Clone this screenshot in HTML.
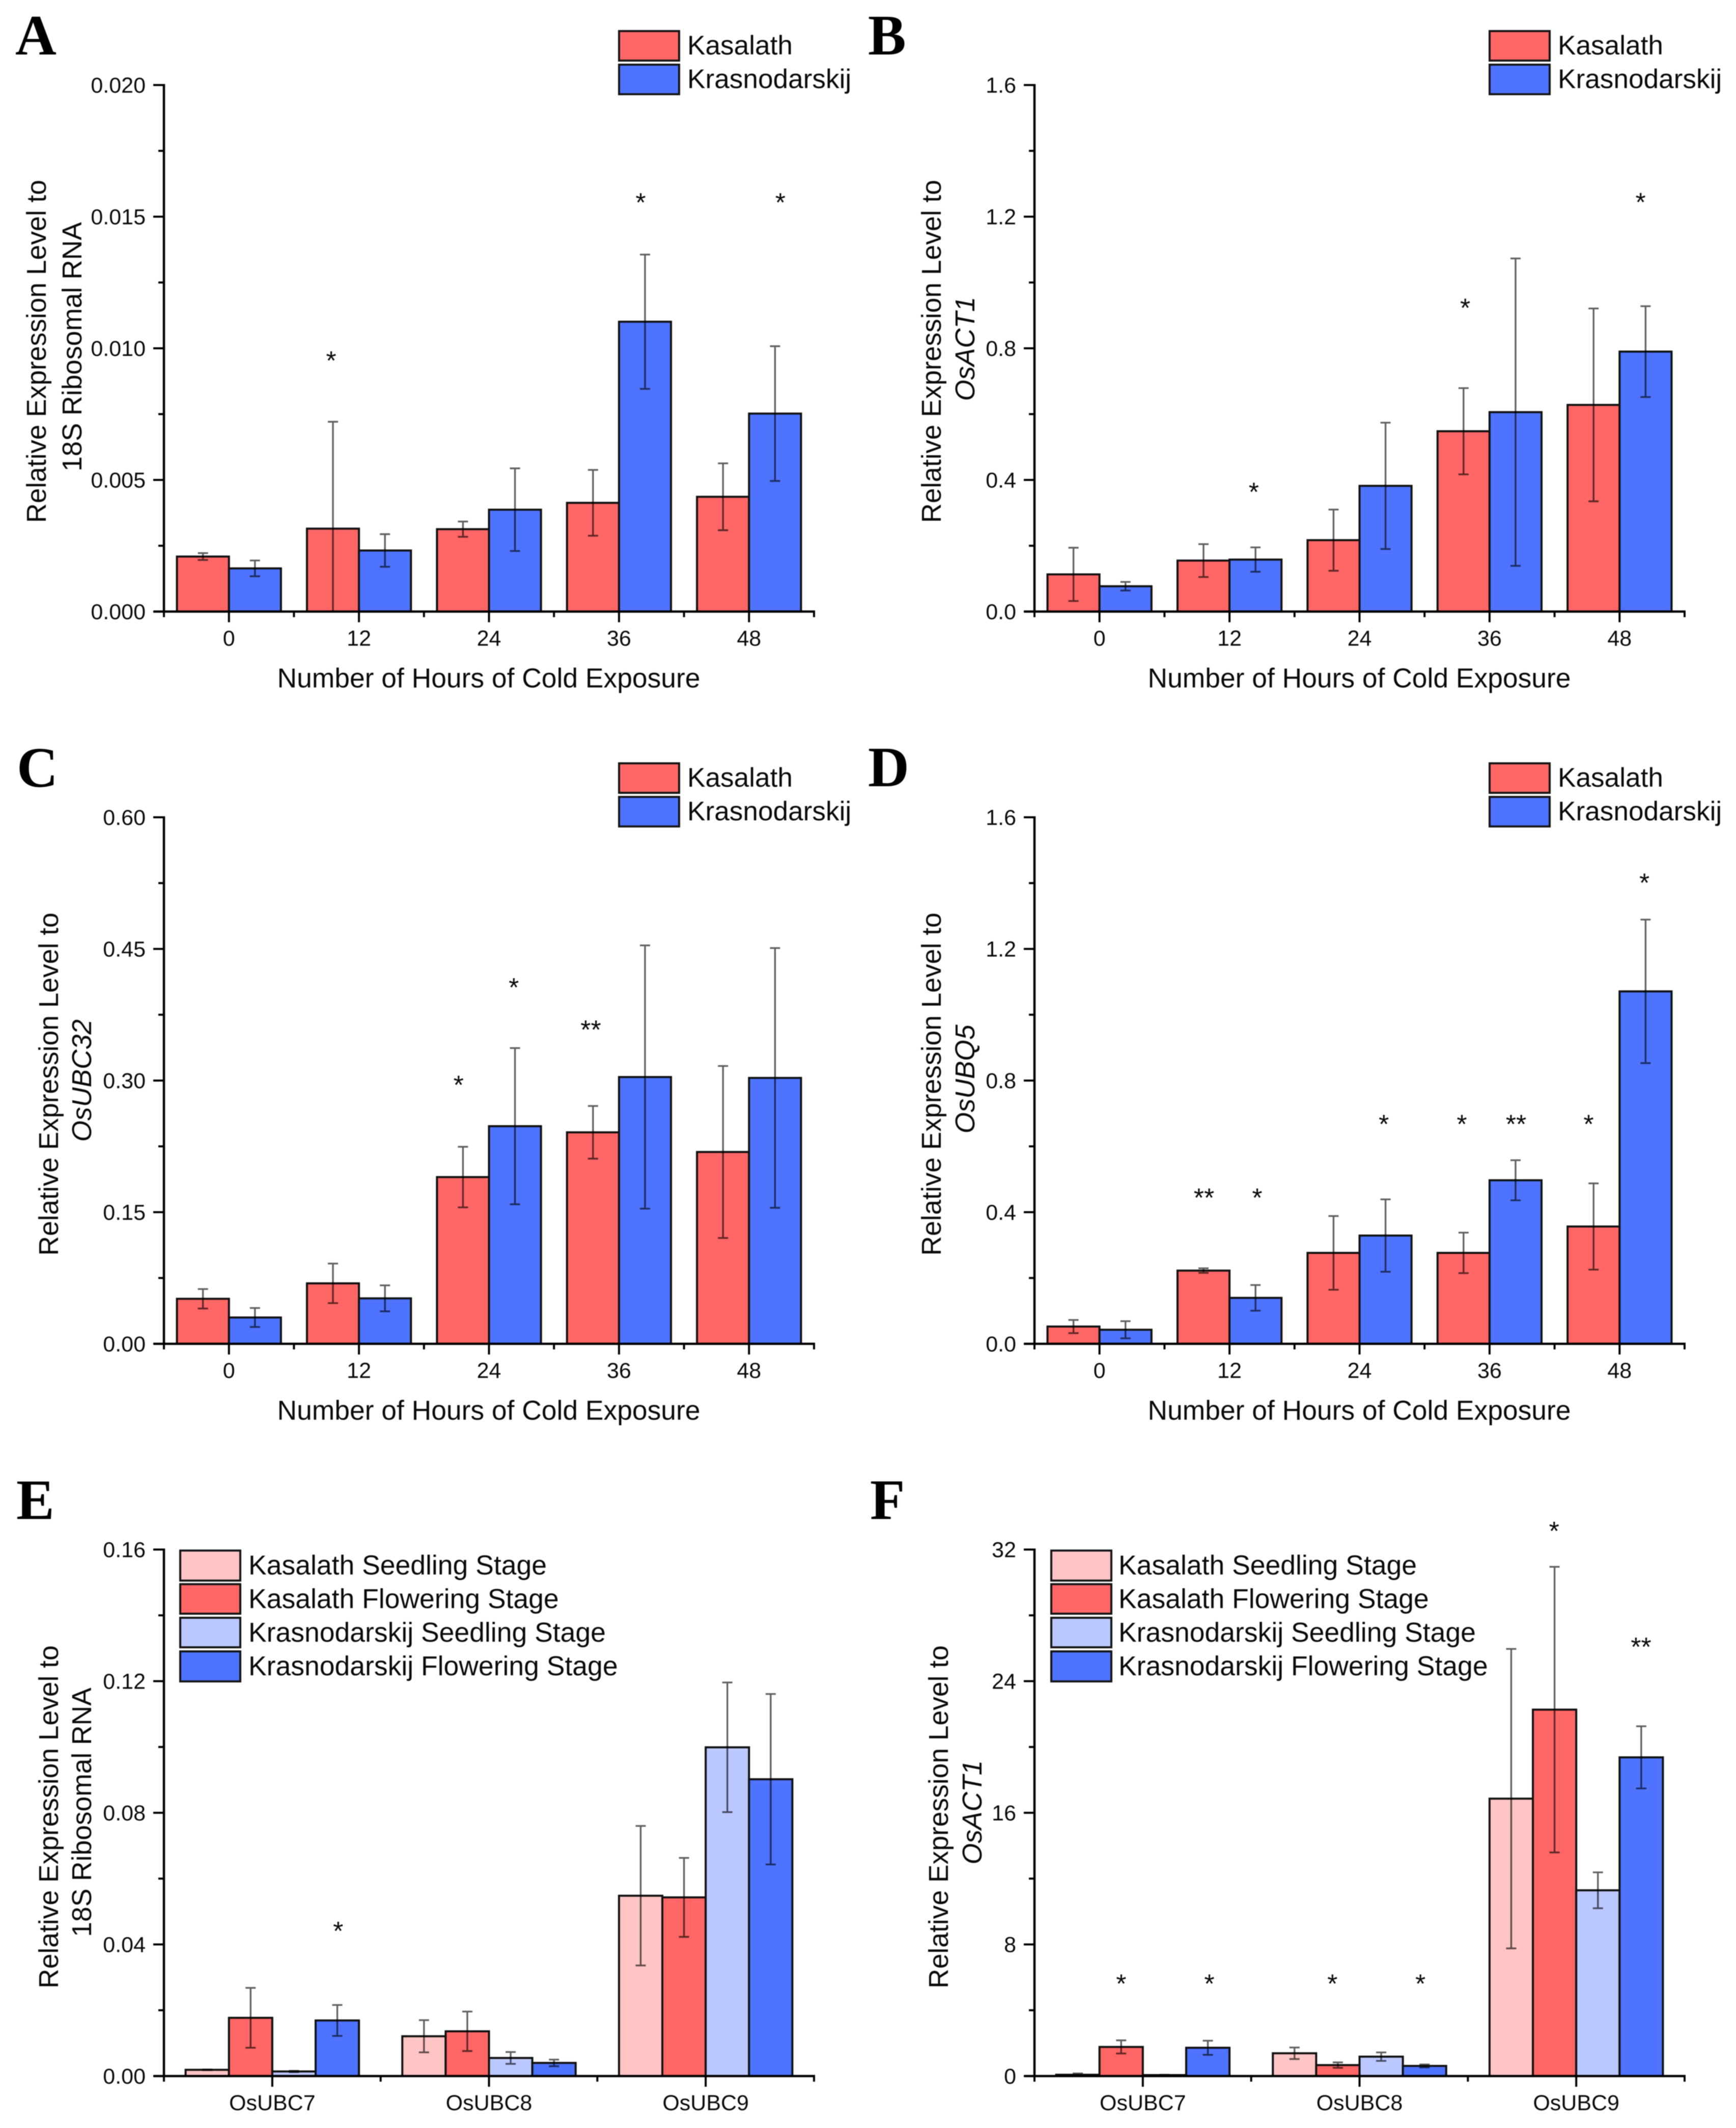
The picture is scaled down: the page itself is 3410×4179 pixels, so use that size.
<!DOCTYPE html>
<html lang="en">
<head>
<meta charset="utf-8">
<title>Relative expression levels under cold exposure</title>
<style>
  html, body { margin: 0; padding: 0; background: #fff; }
  svg { display: block; filter: blur(0.8px); }
  text { font-family: "Liberation Sans", Arial, sans-serif; fill: #0a0a0a; }
  .letter { font-family: "Liberation Serif", serif; font-weight: bold; font-size: 112px; fill: #000; }
  .title { font-size: 53.4px; }
  .legend { font-size: 53.2px; }
  .legend-long { font-size: 53.5px; }
  .swatch { stroke: #151515; stroke-width: 4px; }
</style>
</head>
<body>
<svg id="figure" xmlns="http://www.w3.org/2000/svg" width="3410" height="4179" viewBox="0 0 3410 4179">
  <rect width="3410" height="4179" fill="#fff"/>

  <!-- Panel letters -->
  <text class="letter" x="30" y="107">A</text>
  <text class="letter" x="1705" y="107">B</text>
  <text class="letter" x="33" y="1545">C</text>
  <text class="letter" x="1705" y="1544">D</text>
  <text class="letter" x="32" y="2983">E</text>
  <text class="letter" x="1709" y="2983">F</text>

  <!-- Axis titles -->
  <text class="title" x="960" y="1350" text-anchor="middle">Number of Hours of Cold Exposure</text>
  <text class="title" x="2670" y="1350" text-anchor="middle">Number of Hours of Cold Exposure</text>
  <text class="title" x="960" y="2788" text-anchor="middle">Number of Hours of Cold Exposure</text>
  <text class="title" x="2670" y="2788" text-anchor="middle">Number of Hours of Cold Exposure</text>

  <text class="title" transform="translate(90,690) rotate(-90)" text-anchor="middle">Relative Expression Level to</text>
  <text class="title" transform="translate(160,681) rotate(-90)" text-anchor="middle">18S Ribosomal RNA</text>
  <text class="title" transform="translate(1848,690) rotate(-90)" text-anchor="middle">Relative Expression Level to</text>
  <text class="title" font-style="italic" transform="translate(1914,685) rotate(-90)" text-anchor="middle">OsACT1</text>
  <text class="title" transform="translate(114,2129) rotate(-90)" text-anchor="middle">Relative Expression Level to</text>
  <text class="title" font-style="italic" transform="translate(179,2122) rotate(-90)" text-anchor="middle">OsUBC32</text>
  <text class="title" transform="translate(1848,2129) rotate(-90)" text-anchor="middle">Relative Expression Level to</text>
  <text class="title" font-style="italic" transform="translate(1914,2119) rotate(-90)" text-anchor="middle">OsUBQ5</text>
  <text class="title" transform="translate(114,3568) rotate(-90)" text-anchor="middle">Relative Expression Level to</text>
  <text class="title" transform="translate(179,3559) rotate(-90)" text-anchor="middle">18S Ribosomal RNA</text>
  <text class="title" transform="translate(1862,3568) rotate(-90)" text-anchor="middle">Relative Expression Level to</text>
  <text class="title" font-style="italic" transform="translate(1928,3559) rotate(-90)" text-anchor="middle">OsACT1</text>

  <!-- Legends A to D -->
  <g>
    <rect class="swatch" x="1216" y="61" width="118" height="58" fill="#ff6666"/>
    <text class="legend" x="1350" y="107">Kasalath</text>
    <rect class="swatch" x="1216" y="127" width="118" height="58" fill="#4d73ff"/>
    <text class="legend" x="1350" y="173">Krasnodarskij</text>
  </g>
  <g>
    <rect class="swatch" x="2926" y="61" width="118" height="58" fill="#ff6666"/>
    <text class="legend" x="3060" y="107">Kasalath</text>
    <rect class="swatch" x="2926" y="127" width="118" height="58" fill="#4d73ff"/>
    <text class="legend" x="3060" y="173">Krasnodarskij</text>
  </g>
  <g>
    <rect class="swatch" x="1216" y="1499" width="118" height="58" fill="#ff6666"/>
    <text class="legend" x="1350" y="1545">Kasalath</text>
    <rect class="swatch" x="1216" y="1565" width="118" height="58" fill="#4d73ff"/>
    <text class="legend" x="1350" y="1611">Krasnodarskij</text>
  </g>
  <g>
    <rect class="swatch" x="2926" y="1499" width="118" height="58" fill="#ff6666"/>
    <text class="legend" x="3060" y="1545">Kasalath</text>
    <rect class="swatch" x="2926" y="1565" width="118" height="58" fill="#4d73ff"/>
    <text class="legend" x="3060" y="1611">Krasnodarskij</text>
  </g>

  <!-- Legends E and F -->
  <g>
    <rect class="swatch" x="354" y="3045" width="118" height="59" fill="#ffc4c4"/>
    <text class="legend-long" x="488" y="3092">Kasalath Seedling Stage</text>
    <rect class="swatch" x="354" y="3111" width="118" height="58" fill="#ff6666"/>
    <text class="legend-long" x="488" y="3158">Kasalath Flowering Stage</text>
    <rect class="swatch" x="354" y="3177" width="118" height="58" fill="#bbc7ff"/>
    <text class="legend-long" x="488" y="3224">Krasnodarskij Seedling Stage</text>
    <rect class="swatch" x="354" y="3243" width="118" height="59" fill="#4d73ff"/>
    <text class="legend-long" x="488" y="3290">Krasnodarskij Flowering Stage</text>
  </g>
  <g>
    <rect class="swatch" x="2065" y="3045" width="118" height="59" fill="#ffc4c4"/>
    <text class="legend-long" x="2197" y="3092">Kasalath Seedling Stage</text>
    <rect class="swatch" x="2065" y="3111" width="118" height="58" fill="#ff6666"/>
    <text class="legend-long" x="2197" y="3158">Kasalath Flowering Stage</text>
    <rect class="swatch" x="2065" y="3177" width="118" height="58" fill="#bbc7ff"/>
    <text class="legend-long" x="2197" y="3224">Krasnodarskij Seedling Stage</text>
    <rect class="swatch" x="2065" y="3243" width="118" height="59" fill="#4d73ff"/>
    <text class="legend-long" x="2197" y="3290">Krasnodarskij Flowering Stage</text>
  </g>
</svg>

<script>
// Shared categories
const hourLabels = ['0', '12', '24', '36', '48'];
const geneLabels = ['OsUBC7', 'OsUBC8', 'OsUBC9'];

// Panel A
const aTickLabels = ['0.000', '0.005', '0.010', '0.015', '0.020'];
const aKasalath = [0.00209, 0.00315, 0.00313, 0.00413, 0.00436];
const aKasalathErr = [0.00013, 0.00406, 0.00029, 0.00125, 0.00127];
const aKrasnodarskij = [0.00164, 0.00232, 0.00387, 0.01101, 0.00752];
const aKrasnodarskijErr = [0.00030, 0.00062, 0.00157, 0.00255, 0.00256];
const aStarText = ['*', '*', '*'];
const aStarGroup = [0.786, 3.167, 4.241];
const aStarValue = [0.00963, 0.01564, 0.01564];

// Panel B
const bTickLabels = ['0.0', '0.4', '0.8', '1.2', '1.6'];
const bKasalath = [0.113, 0.155, 0.217, 0.548, 0.628];
const bKasalathErr = [0.081, 0.050, 0.093, 0.131, 0.293];
const bKrasnodarskij = [0.077, 0.158, 0.382, 0.606, 0.790];
const bKrasnodarskijErr = [0.013, 0.037, 0.192, 0.467, 0.138];
const bStarText = ['*', '*', '*'];
const bStarGroup = [1.187, 2.813, 4.162];
const bStarValue = [0.371, 0.931, 1.252];

// Panel C
const cTickLabels = ['0.00', '0.15', '0.30', '0.45', '0.60'];
const cKasalath = [0.0513, 0.0689, 0.190, 0.241, 0.2186];
const cKasalathErr = [0.0111, 0.0225, 0.0345, 0.030, 0.098];
const cKrasnodarskij = [0.030, 0.0518, 0.248, 0.304, 0.303];
const cKrasnodarskijErr = [0.0108, 0.0148, 0.089, 0.150, 0.148];
const cStarText = ['*', '*', '**'];
const cStarGroup = [1.766, 2.191, 2.783];
const cStarValue = [0.298, 0.409, 0.361];

// Panel D
const dTickLabels = ['0.0', '0.4', '0.8', '1.2', '1.6'];
const dKasalath = [0.0525, 0.2225, 0.2763, 0.2763, 0.3565];
const dKasalathErr = [0.020, 0.007, 0.112, 0.0615, 0.131];
const dKrasnodarskij = [0.0428, 0.1396, 0.329, 0.497, 1.071];
const dKrasnodarskijErr = [0.026, 0.039, 0.110, 0.061, 0.218];
const dStarText = ['**', '*', '*', '*', '**', '*', '*'];
const dStarGroup = [0.804, 1.213, 2.187, 2.787, 3.204, 3.762, 4.191];
const dStarValue = [0.452, 0.452, 0.6756, 0.6756, 0.6756, 0.6756, 1.409];

// Panel E
const eTickLabels = ['0.00', '0.04', '0.08', '0.12', '0.16'];
const eKasalathSeedling = [0.0019, 0.0121, 0.0548];
const eKasalathSeedlingErr = [0.0001, 0.0049, 0.0212];
const eKasalathFlowering = [0.0177, 0.0136, 0.0543];
const eKasalathFloweringErr = [0.0091, 0.0060, 0.0120];
const eKrasnodarskijSeedling = [0.0014, 0.0055, 0.0999];
const eKrasnodarskijSeedlingErr = [0.0002, 0.0018, 0.0197];
const eKrasnodarskijFlowering = [0.0169, 0.0040, 0.0902];
const eKrasnodarskijFloweringErr = [0.0047, 0.0010, 0.0259];
const eStarText = ['*'];
const eStarGroup = [0.304];
const eStarValue = [0.0449];

// Panel F
const fTickLabels = ['0', '8', '16', '24', '32'];
const fKasalathSeedling = [0.08, 1.386, 16.86];
const fKasalathSeedlingErr = [0.08, 0.35, 9.10];
const fKasalathFlowering = [1.77, 0.667, 22.27];
const fKasalathFloweringErr = [0.40, 0.165, 8.68];
const fKrasnodarskijSeedling = [0.06, 1.18, 11.29];
const fKrasnodarskijSeedlingErr = [0.02, 0.256, 1.09];
const fKrasnodarskijFlowering = [1.72, 0.616, 19.37];
const fKrasnodarskijFloweringErr = [0.43, 0.09, 1.89];
const fStarText = ['*', '*', '*', '*', '*', '**'];
const fStarGroup = [-0.0997, 0.307, 0.875, 1.281, 1.898, 2.299];
const fStarValue = [5.77, 5.77, 5.77, 5.77, 33.28, 26.25];

const twoColors = ['#ff6666', '#4d73ff'];
const fourColors = ['#ffc4c4', '#ff6666', '#bbc7ff', '#4d73ff'];

const SVG_NS = 'http://www.w3.org/2000/svg';
const figure = document.getElementById('figure');
const PLOT_WIDTH = 1277;
const PLOT_HEIGHT = 1034;

function make(parent, tag, attrs, content) {
  const el = document.createElementNS(SVG_NS, tag);
  Object.keys(attrs).forEach(function (k) { el.setAttribute(k, attrs[k]); });
  if (content !== undefined) el.textContent = content;
  parent.appendChild(el);
  return el;
}

function drawPanel(left, top, categories, tickLabels, series, errors, colors, starText, starGroup, starValue) {
  const base = top + PLOT_HEIGHT;
  const maxValue = Number(tickLabels[tickLabels.length - 1]);
  const groupWidth = PLOT_WIDTH / categories.length;
  const barWidth = 0.8 * groupWidth / series.length;
  const yOf = function (v) { return base - (v / maxValue) * PLOT_HEIGHT; };
  const xOf = function (g) { return left + (g + 0.5) * groupWidth; };

  const panel = make(figure, 'g', {});
  
  

  // Bars
  series.forEach(function (values, s) {
    values.forEach(function (v, g) {
      const bx = xOf(g) + (s - series.length / 2) * barWidth;
      const bar = make(panel, 'rect', {
        x: bx, y: yOf(v), width: barWidth, height: base - yOf(v),
        fill: colors[s], stroke: '#111', 'stroke-width': 4
      });
      
      
    });
  });

  // Error bars
  series.forEach(function (values, s) {
    values.forEach(function (v, g) {
      const cx = xOf(g) + (s - series.length / 2 + 0.5) * barWidth;
      const hiY = yOf(v + errors[s][g]);
      const loY = Math.min(yOf(v - errors[s][g]), base);
      const err = make(panel, 'path', {
        d: 'M' + cx + ' ' + hiY + 'V' + loY +
           'M' + (cx - 10) + ' ' + hiY + 'H' + (cx + 10) +
           'M' + (cx - 10) + ' ' + loY + 'H' + (cx + 10),
        fill: 'none', stroke: '#000', 'stroke-opacity': 0.62, 'stroke-width': 3.4
      });
      
      
    });
  });

  // Axis lines
  const yAxis = make(panel, 'line', { x1: left, x2: left, y1: top - 2, y2: base + 2, stroke: '#000', 'stroke-width': 4.5 });
  
  
  const xAxis = make(panel, 'line', { x1: left - 20, x2: left + PLOT_WIDTH + 2, y1: base, y2: base, stroke: '#000', 'stroke-width': 4.5 });
  
  

  // Y ticks and labels
  tickLabels.forEach(function (label, i) {
    const ty = yOf(Number(label));
    const tick = make(panel, 'line', { x1: left - 21, x2: left, y1: ty, y2: ty, stroke: '#000', 'stroke-width': 4 });
    
    
    const text = make(panel, 'text', { x: left - 36, y: ty + 15, 'text-anchor': 'end', 'font-size': 43 }, label);
    
    
    if (i < tickLabels.length - 1) {
      const my = (ty + yOf(Number(tickLabels[i + 1]))) / 2;
      const minor = make(panel, 'line', { x1: left - 11, x2: left, y1: my, y2: my, stroke: '#000', 'stroke-width': 4 });
      
      
    }
  });

  // X ticks and labels
  categories.forEach(function (label, g) {
    const tx = xOf(g);
    const tick = make(panel, 'line', { x1: tx, x2: tx, y1: base, y2: base + 21, stroke: '#000', 'stroke-width': 4 });
    
    
    const text = make(panel, 'text', { x: tx, y: base + 67, 'text-anchor': 'middle', 'font-size': 43 }, label);
    
    
  });
  for (let g = 0; g <= categories.length; g++) {
    const mx = xOf(g - 0.5);
    const minor = make(panel, 'line', { x1: mx, x2: mx, y1: base, y2: base + 11, stroke: '#000', 'stroke-width': 4 });
    
    
  }

  // Significance marks
  starText.forEach(function (label, i) {
    const star = make(panel, 'text', {
      x: xOf(starGroup[i]), y: yOf(starValue[i]) + 23, 'text-anchor': 'middle', 'font-size': 52
    }, label);
    
    
  });
}

drawPanel(322, 167, hourLabels, aTickLabels,
  [aKasalath, aKrasnodarskij], [aKasalathErr, aKrasnodarskijErr], twoColors,
  aStarText, aStarGroup, aStarValue);
drawPanel(2032, 167, hourLabels, bTickLabels,
  [bKasalath, bKrasnodarskij], [bKasalathErr, bKrasnodarskijErr], twoColors,
  bStarText, bStarGroup, bStarValue);
drawPanel(322, 1605, hourLabels, cTickLabels,
  [cKasalath, cKrasnodarskij], [cKasalathErr, cKrasnodarskijErr], twoColors,
  cStarText, cStarGroup, cStarValue);
drawPanel(2032, 1605, hourLabels, dTickLabels,
  [dKasalath, dKrasnodarskij], [dKasalathErr, dKrasnodarskijErr], twoColors,
  dStarText, dStarGroup, dStarValue);
drawPanel(322, 3043, geneLabels, eTickLabels,
  [eKasalathSeedling, eKasalathFlowering, eKrasnodarskijSeedling, eKrasnodarskijFlowering],
  [eKasalathSeedlingErr, eKasalathFloweringErr, eKrasnodarskijSeedlingErr, eKrasnodarskijFloweringErr],
  fourColors, eStarText, eStarGroup, eStarValue);
drawPanel(2032, 3043, geneLabels, fTickLabels,
  [fKasalathSeedling, fKasalathFlowering, fKrasnodarskijSeedling, fKrasnodarskijFlowering],
  [fKasalathSeedlingErr, fKasalathFloweringErr, fKrasnodarskijSeedlingErr, fKrasnodarskijFloweringErr],
  fourColors, fStarText, fStarGroup, fStarValue);
</script>
</body>
</html>
